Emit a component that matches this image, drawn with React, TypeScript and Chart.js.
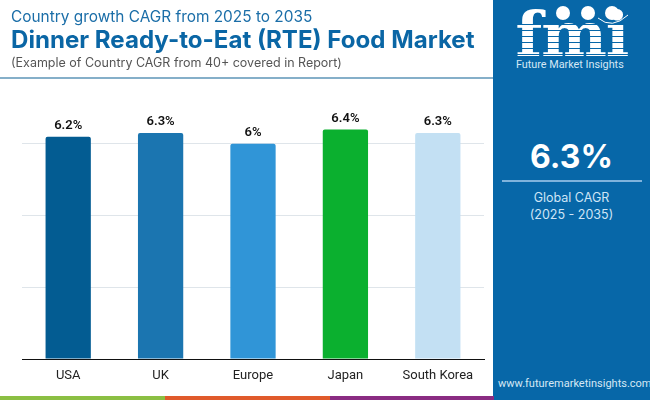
import React, { useEffect, useRef } from "react";
import { Chart, registerables } from "chart.js";

Chart.register(...registerables);

const categories = ["USA", "UK", "Europe", "Japan", "South Korea"];
const cagrValues = [6.2, 6.3, 6, 6.4, 6.3];
const barColors = ["#035c92", "#1b75b0", "#3095d7", "#0bb02f", "#c3e0f3"];
const yTicks = [0, 2, 4, 6];

const valueLabels = {
  id: "valueLabels",
  afterDatasetsDraw(chart: any) {
    const { ctx } = chart;
    const meta = chart.getDatasetMeta(0);
    ctx.save();
    ctx.font = "600 13px Roboto, sans-serif";
    ctx.fillStyle = "#111";
    ctx.textAlign = "center";
    ctx.textBaseline = "alphabetic";
    meta.data.forEach((bar: any, i: number) => {
      ctx.fillText(`${cagrValues[i]}%`, bar.x, bar.y - 8);
    });
    ctx.restore();
  },
};

const abs = (s: React.CSSProperties): React.CSSProperties => ({ position: "absolute", whiteSpace: "nowrap", ...s });
const head = "Inter, 'Noto Sans', sans-serif";

function Logo() {
  return (
    <div style={abs({ left: 490, top: 0, width: 160, height: 100 })}>
      <div style={abs({ left: 24, top: -1, width: 116, textAlign: "center", fontFamily: "'DejaVu Serif', serif", fontWeight: 700, fontSize: 62, lineHeight: "72px", letterSpacing: -1, color: "#fff" })}>fmi</div>
      {[24, 30, 36, 42, 48, 54].map((y) => (
        <div key={y} style={abs({ left: 24, top: y, width: 116, height: 1, background: "#0767a8" })} />
      ))}
      {[73, 98, 122].map((x) => (
        <div key={x} style={abs({ left: x - 7, top: 6, width: 14, height: 14, borderRadius: 7, background: "#fff" })} />
      ))}
      <svg width={160} height={40} style={abs({ left: 0, top: 0 })}>
        <path d="M108 18 Q122 30 138 15" fill="none" stroke="#fff" strokeWidth={1} />
      </svg>
      <div style={abs({ left: 26, top: 58, fontFamily: "Roboto, sans-serif", fontSize: 10.8, color: "#d5e8f5" })}>Future Market Insights</div>
    </div>
  );
}

export default function App() {
  const ref = useRef<HTMLCanvasElement>(null);
  useEffect(() => {
    document.body.style.margin = "0";
    const chart = new Chart(ref.current!, {
      type: "bar",
      data: {
        labels: categories,
        datasets: [{ data: cagrValues, backgroundColor: barColors, borderRadius: { topLeft: 2, topRight: 2 }, borderSkipped: "bottom", categoryPercentage: 1, barPercentage: 0.49 }],
      },
      options: {
        animation: false,
        responsive: false,
        devicePixelRatio: 1,
        layout: { padding: { left: 22, right: 166, top: 108, bottom: 0 } },
        plugins: { legend: { display: false }, tooltip: { enabled: false } },
        scales: {
          x: {
            grid: { display: false },
            border: { color: "#111", width: 1 },
            ticks: { color: "#222", font: { family: "Roboto, sans-serif", size: 13 }, padding: 1, maxRotation: 0 },
            afterFit: (s: any) => { s.height = 41; },
          },
          y: {
            min: 0,
            max: 7,
            afterBuildTicks: (s: any) => { s.ticks = yTicks.map((value) => ({ value })); },
            grid: { color: "#dfe5ea", drawTicks: false },
            border: { display: false },
            ticks: { display: false },
            afterFit: (s: any) => { s.width = 0; },
          },
        },
      },
      plugins: [valueLabels],
    } as any);
    return () => chart.destroy();
  }, []);
  return (
    <div style={{ position: "relative", width: 650, height: 400, overflow: "hidden", background: "#fff" }}>
      <canvas ref={ref} width={650} height={400} style={abs({ left: 0, top: 0 })} />
      <div style={abs({ left: 11, top: 7, fontFamily: head, fontSize: 15.4, color: "#1b6ea8" })}>Country growth CAGR from 2025 to 2035</div>
      <div style={abs({ left: 11, top: 26, fontFamily: head, fontWeight: 700, fontSize: 24.1, lineHeight: "28px", color: "#0a66a5" })}>Dinner Ready-to-Eat (RTE) Food Market</div>
      <div style={abs({ left: 11, top: 55, fontFamily: head, fontSize: 12.5, color: "#555" })}>(Example of Country CAGR from 40+ covered in Report)</div>
      <div style={abs({ left: 0, top: 77, width: 493, height: 2, background: "#85afc9" })} />
      <div style={abs({ left: 493, top: 0, width: 157, height: 400, background: "#0767a8" })} />
      <Logo />
      <div style={abs({ left: 493, top: 138, width: 157, textAlign: "center", fontFamily: head, fontWeight: 700, fontSize: 32, lineHeight: "38px", color: "#fff" })}>6.3%</div>
      <div style={abs({ left: 502, top: 180, width: 140, height: 2, background: "#7fb3dc" })} />
      <div style={abs({ left: 493, top: 189, width: 157, textAlign: "center", fontFamily: head, fontSize: 12.5, lineHeight: "17px", color: "#cfe5f6" })}>Global CAGR<br />(2025 - 2035)</div>
      <div style={abs({ left: 498, top: 377, fontFamily: "Roboto, sans-serif", fontSize: 11, color: "#d5e8f5" })}>www.futuremarketinsights.com</div>
      <div style={abs({ left: 0, top: 396, width: 165, height: 4, background: "#8bbf43" })} />
      <div style={abs({ left: 165, top: 396, width: 165, height: 4, background: "#e05a2b" })} />
      <div style={abs({ left: 330, top: 396, width: 164, height: 4, background: "#8a2c82" })} />
    </div>
  );
}
